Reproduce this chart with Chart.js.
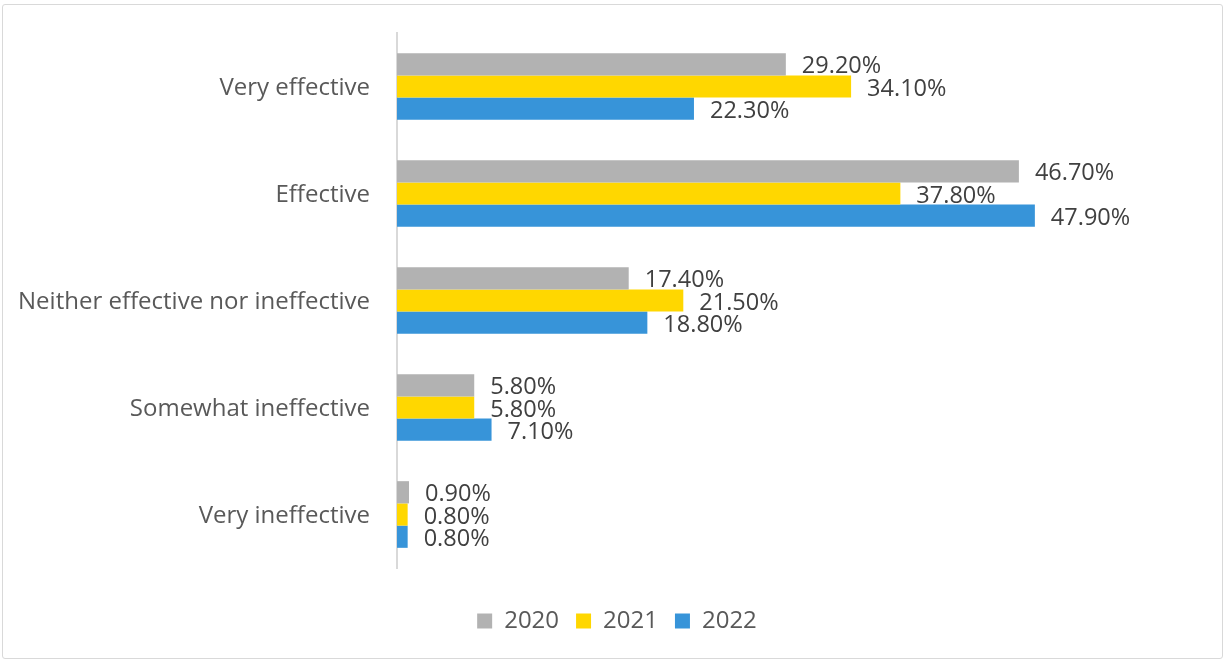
<!DOCTYPE html>
<html>
<head>
<meta charset="utf-8">
<script src="https://cdn.jsdelivr.net/npm/chart.js@4.4.0/dist/chart.umd.min.js"></script>
<style>
  html, body { margin: 0; padding: 0; background: #fff; }
  #wrap { position: relative; width: 1227px; height: 662px; }
  #frame { position: absolute; left: 2px; top: 4px; border: 1.5px solid #D9D9D9; border-radius: 3px; box-sizing: border-box; width: 1221px; height: 655px; }
  canvas { position: absolute; left: 0; top: 0; }
</style>
</head>
<body>
<div id="wrap">
  <div id="frame"></div>
  <canvas id="c" width="1227" height="662"></canvas>
</div>
<script>
const categories = ["Very effective", "Effective", "Neither effective nor ineffective", "Somewhat ineffective", "Very ineffective"];
const seriesNames = ["2020", "2021", "2022"];
const values2020 = [29.2, 46.7, 17.4, 5.8, 0.9];
const values2021 = [34.1, 37.8, 21.5, 5.8, 0.8];
const values2022 = [22.3, 47.9, 18.8, 7.1, 0.8];
const colors = ["#B2B2B2", "#FFD700", "#3794D9"];

const FONT = "'Open Sans', sans-serif";

const labelPlugin = {
  id: 'barLabels',
  beforeDraw(chart) {
    // shift legend band so its centre matches the original layout
    if (chart.legend) { chart.legend.left = 38; }
  },
  afterDatasetsDraw(chart) {
    const ctx = chart.ctx;
    ctx.save();
    ctx.font = "23.5px " + FONT;
    ctx.fillStyle = "#404040";
    ctx.textBaseline = "middle";
    ctx.textAlign = "left";
    chart.data.datasets.forEach((ds, i) => {
      const meta = chart.getDatasetMeta(i);
      meta.data.forEach((bar, j) => {
        const v = ds.data[j];
        ctx.fillText(v.toFixed(2) + "%", bar.x + 16, bar.y + 2.5);
      });
    });
    ctx.restore();
  }
};

new Chart(document.getElementById('c'), {
  type: 'bar',
  data: {
    labels: categories,
    datasets: [
      { label: seriesNames[0], data: values2020, backgroundColor: colors[0] },
      { label: seriesNames[1], data: values2021, backgroundColor: colors[1] },
      { label: seriesNames[2], data: values2022, backgroundColor: colors[2] }
    ]
  },
  options: {
    indexAxis: 'y',
    responsive: false,
    animation: false,
    devicePixelRatio: 1,
    layout: { padding: { top: 33, right: 31, bottom: 19, left: 0 } },
    datasets: { bar: { categoryPercentage: 0.623, barPercentage: 1 } },
    scales: {
      x: {
        min: 0, max: 60,
        display: true,
        ticks: { display: false },
        grid: { display: false },
        border: { display: false },
        afterFit: s => { s.height = 24; }
      },
      y: {
        grid: { display: false, drawTicks: true, tickLength: 27, tickColor: 'rgba(0,0,0,0)' },
        border: { display: true, color: "#D9D9D9", width: 2 },
        ticks: { color: "#595959", font: { family: FONT, size: 24 }, padding: 0, labelOffset: 2 },
        afterFit: s => { s.width = 397; }
      }
    },
    plugins: {
      legend: {
        position: 'bottom',
        labels: {
          color: "#595959",
          font: { family: FONT, size: 24 },
          boxWidth: 15, boxHeight: 15,
          padding: 17
        }
      },
      tooltip: { enabled: false }
    }
  },
  plugins: [labelPlugin]
});
</script>
</body>
</html>
